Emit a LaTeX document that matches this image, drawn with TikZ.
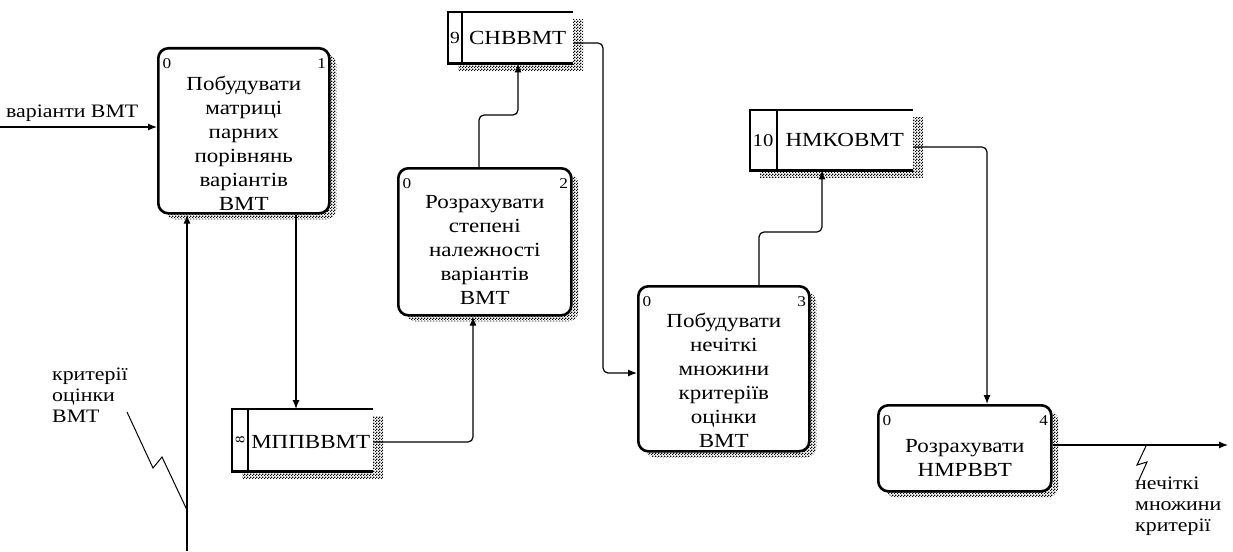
\documentclass[tikz,border=0pt]{standalone}
\usepackage{fontspec}
\setmainfont{Liberation Serif}[FakeStretch=1.15]
\usetikzlibrary{calc,shadows,patterns,arrows.meta}

% fine checkerboard used for the shadows
\pgfdeclarepatternformonly{checker}{\pgfpointorigin}{\pgfpoint{3pt}{3pt}}{\pgfpoint{3pt}{3pt}}{%
  \pgfpathrectangle{\pgfpointorigin}{\pgfpoint{1.5pt}{1.5pt}}%
  \pgfpathrectangle{\pgfpoint{1.5pt}{1.5pt}}{\pgfpoint{1.5pt}{1.5pt}}%
  \pgfusepath{fill}}

\begin{document}
\begin{tikzpicture}[x=1pt,y=-1pt,
  hatch/.style={pattern=checker, pattern color=black},
  proc/.style={draw, line width=2.6pt, rounded corners=10pt, fill=white,
    anchor=north west, inner sep=0pt,
    general shadow={hatch, shadow xshift=7pt, shadow yshift=-6pt}},
  store/.style={fill=white, anchor=north west, inner sep=0pt,
    general shadow={hatch, shadow xshift=10pt, shadow yshift=-7pt}},
  storeline/.style={line width=2.6pt},
  boxtext/.style={align=center, inner sep=0pt, font=\fontsize{20}{24}\selectfont},
  idx/.style={inner sep=0pt, font=\fontsize{15}{15}\selectfont},
  stname/.style={inner sep=0pt, font=\fontsize{20}{20}\selectfont},
  lbl/.style={align=left, inner sep=0pt, anchor=north west, font=\fontsize{19}{21}\selectfont},
  flow/.style={line width=1.2pt, rounded corners=5pt, -{Latex[length=9pt,width=7pt]}},
  squig/.style={line width=1pt}]

\fill[white] (0,0) rectangle (1233,551);
\useasboundingbox (0,0) rectangle (1233,551);

% ---------- processes ----------
\node[proc, minimum width=171pt, minimum height=165pt] (b1) at (157,47) {};
\node[proc, minimum width=173pt, minimum height=147pt] (b2) at (397,167) {};
\node[proc, minimum width=171pt, minimum height=165pt] (b3) at (637,285) {};
\node[proc, minimum width=173pt, minimum height=86pt]  (b4) at (877,404) {};

\node[boxtext] (b1t) at ($(b1.center)+(0,13)$)
  {Побудувати\\матриці\\парних\\порівнянь\\варіантів\\ВМТ};
\node[boxtext] (b2t) at ($(b2.center)+(0,8)$)
  {Розрахувати\\степені\\належності\\варіантів\\ВМТ};
\node[boxtext] (b3t) at ($(b3.center)+(0,12)$)
  {Побудувати\\нечіткі\\множини\\критеріїв\\оцінки\\ВМТ};
\node[boxtext] (b4t) at ($(b4.center)+(0,10)$)
  {Розрахувати\\НМРВВТ};

\foreach \b/\n in {b1/1,b2/2,b3/3,b4/4}{
  \node[idx] (\b z) at ($(\b.north west)+(10,17)$) {0};
  \node[idx] (\b n) at ($(\b.north east)+(-9,17)$) {\n};
}

% ---------- data stores ----------
\node[store, minimum width=125pt, minimum height=51pt] (s9)  at (448,12)  {};
\node[store, minimum width=141pt, minimum height=62pt] (s8)  at (232,409) {};
\node[store, minimum width=163pt, minimum height=60pt] (s10) at (750,110) {};

\foreach \s/\d in {s9/14,s8/16,s10/27}{
  \draw[storeline] (\s.north east) -- (\s.north west) -- (\s.south west) -- (\s.south east);
  \draw[storeline] ($(\s.north west)+(\d,0)$) -- ($(\s.south west)+(\d,0)$);
}

\node[idx, font=\fontsize{17}{17}\selectfont] (s9n)  at ($(s9.west)+(7,0)$)   {9};
\node[idx, font=\fontsize{13}{13}\selectfont, rotate=90] (s8n) at ($(s8.west)+(8,0)$) {8};
\node[idx, font=\fontsize{18}{18}\selectfont] (s10n) at ($(s10.west)+(13,0)$) {10};

\node[stname] (s9t)  at ($(s9.center)+(7,0)$)   {СНВВМТ};
\node[stname] (s8t)  at ($(s8.center)+(8,2)$)   {МППВВМТ};
\node[stname] (s10t) at ($(s10.center)+(13,0)$) {НМКОВМТ};

% ---------- flows ----------
\coordinate (in1) at (0,127);
\draw[flow] (in1) -- (in1 -| b1.west);
\node[lbl, anchor=south west] (in1t) at (6,122) {варіанти ВМТ};

\coordinate (in2) at (187,551);
\draw[flow] (in2) -- (in2 |- b1.south);
\node[lbl] (in2t) at (52,368) {критерії\\оцінки\\ВМТ};
\draw[squig] (127,412) -- (153,468) -- (162,457) -- (187,510);

\coordinate (k2) at (296,0);
\draw[flow] (b1.south -| k2) -- (s8.north -| k2);

\coordinate (k4) at (473,442);
\draw[flow] (s8.east |- k4) -- (k4) -- (k4 |- b2.south);

\coordinate (k5a) at (479,115);
\coordinate (k5b) at (518,115);
\draw[flow] (b2.north -| k5a) -- (k5a) -- (k5b) -- (k5b |- s9.south);

\coordinate (k6a) at (603,43);
\coordinate (k6b) at (603,373);
\draw[flow] (s9.east |- k6a) -- (k6a) -- (k6b) -- (k6b -| b3.west);

\coordinate (k7a) at (759,232);
\coordinate (k7b) at (822,232);
\draw[flow] (b3.north -| k7a) -- (k7a) -- (k7b) -- (k7b |- s10.south);

\coordinate (k8) at (987,147);
\draw[flow] (s10.east |- k8) -- (k8) -- (k8 |- b4.north);

\coordinate (out1) at (1228,445);
\draw[flow] (b4.east |- out1) -- (out1);
\node[lbl] (out1t) at (1135,477) {нечіткі\\множини\\критерії};
\draw[squig] (1146,446) -- (1137,465) -- (1147,462) -- (1138,482);

\end{tikzpicture}
\end{document}
